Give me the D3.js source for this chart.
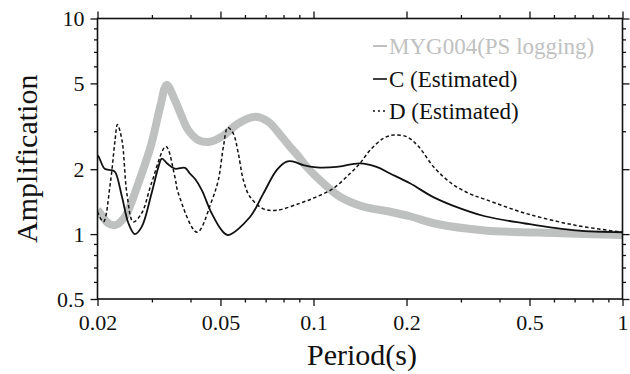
<!DOCTYPE html>
<html>
<head>
<meta charset="utf-8">
<script src="https://cdn.jsdelivr.net/npm/d3@7"></script>
<style>
  body { margin: 0; background: #fff; }
  svg { display: block; }
</style>
</head>
<body>
<svg id="chart" width="630" height="374"></svg>
<script>
// ---- data ----
const xMajorTicks = [0.02, 0.05, 0.1, 0.2, 0.5, 1];
const xMajorLabels = ["0.02", "0.05", "0.1", "0.2", "0.5", "1"];
const xMinorTicks = [0.03, 0.04, 0.06, 0.07, 0.08, 0.09, 0.3, 0.4, 0.6, 0.7, 0.8, 0.9];
const yMajorTicks = [0.5, 1, 2, 5, 10];
const yMajorLabels = ["0.5", "1", "2", "5", "10"];
const yMinorTicks = [0.6, 0.7, 0.8, 0.9, 3, 4, 6, 7, 8, 9];

const seriesNames = ["MYG004(PS logging)", "C (Estimated)", "D (Estimated)"];

const grayPeriod = [0.02, 0.0204, 0.0217, 0.0228, 0.0245, 0.0271, 0.0299, 0.0319, 0.0335, 0.0356, 0.0375, 0.0393, 0.0424, 0.0462, 0.0505, 0.0571, 0.0647, 0.0714, 0.0789, 0.084, 0.0893, 0.0951, 0.1076, 0.1218, 0.145, 0.1769, 0.2052, 0.247, 0.359, 0.628, 1.0];
const grayAmp    = [1.3, 1.25, 1.12, 1.1, 1.2, 1.72, 2.63, 3.89, 4.92, 4.18, 3.5, 3.04, 2.73, 2.68, 2.83, 3.26, 3.5, 3.32, 2.83, 2.54, 2.3, 2.05, 1.72, 1.49, 1.34, 1.27, 1.21, 1.12, 1.04, 1.01, 0.99];

const cPeriod = [0.02, 0.0202, 0.0211, 0.0222, 0.0228, 0.024, 0.0252, 0.0264, 0.0278, 0.0299, 0.0315, 0.0323, 0.0337, 0.0356, 0.0384, 0.0398, 0.0414, 0.0435, 0.0468, 0.0505, 0.0529, 0.0623, 0.0688, 0.076, 0.0819, 0.086, 0.0927, 0.1024, 0.1189, 0.1414, 0.16, 0.1769, 0.2052, 0.245, 0.281, 0.359, 0.484, 0.702, 1.0];
const cAmp    = [2.32, 2.28, 2.01, 1.98, 1.94, 1.49, 1.12, 1.0, 1.08, 1.54, 2.05, 2.24, 2.12, 2.01, 2.03, 1.91, 1.8, 1.6, 1.25, 1.04, 0.99, 1.2, 1.54, 1.98, 2.17, 2.17, 2.09, 2.04, 2.05, 2.13, 2.05, 1.91, 1.72, 1.48, 1.36, 1.21, 1.12, 1.04, 1.02];

const dPeriod = [0.02, 0.0209, 0.022, 0.0228, 0.0232, 0.024, 0.0249, 0.0261, 0.0278, 0.0299, 0.0333, 0.0356, 0.0365, 0.042, 0.0468, 0.0492, 0.0511, 0.0528, 0.055, 0.0571, 0.0593, 0.0623, 0.0688, 0.076, 0.0904, 0.1024, 0.116, 0.1313, 0.1414, 0.1524, 0.1683, 0.1813, 0.2003, 0.218, 0.247, 0.281, 0.32, 0.359, 0.484, 0.702, 1.0];
const dAmp    = [1.27, 1.14, 1.72, 2.73, 3.22, 2.73, 1.54, 1.14, 1.25, 1.72, 2.55, 1.84, 1.55, 1.02, 1.42, 1.78, 2.54, 3.12, 2.93, 2.37, 1.78, 1.49, 1.31, 1.29, 1.39, 1.49, 1.63, 1.91, 2.13, 2.45, 2.78, 2.88, 2.83, 2.56, 2.02, 1.71, 1.54, 1.45, 1.25, 1.1, 1.02];

// ---- layout ----
const FONT = '"Liberation Serif", serif';
const svg = d3.select("#chart");
const L = 97.5, R = 622.5, T = 18.5, B = 299;
const x = d3.scaleLog().domain([0.02, 1]).range([L, R]);
const y = d3.scaleLog().domain([0.5, 10]).range([B, T]);

const grayCol = "#bfc1c1";

svg.append("defs").append("clipPath").attr("id", "clip")
  .append("rect").attr("x", L).attr("y", T).attr("width", R - L).attr("height", B - T);

const line = d3.line().x(d => x(d[0])).y(d => y(d[1])).curve(d3.curveCatmullRom.alpha(0.5));

const plot = svg.append("g").attr("clip-path", "url(#clip)");
plot.append("path").datum(d3.zip(grayPeriod, grayAmp))
  .attr("d", line).attr("fill", "none").attr("stroke", grayCol).attr("stroke-width", 8);
plot.append("path").datum(d3.zip(dPeriod, dAmp))
  .attr("d", line).attr("fill", "none").attr("stroke", "#111").attr("stroke-width", 1.5)
  .attr("stroke-dasharray", "3.5,2.5");
plot.append("path").datum(d3.zip(cPeriod, cAmp))
  .attr("d", line).attr("fill", "none").attr("stroke", "#111").attr("stroke-width", 1.8);

// ---- axes ----
function styleAxis(g) {
  g.select(".domain").remove();
  g.selectAll("line").attr("stroke", "#111").attr("stroke-width", 1.3);
  g.selectAll("text").attr("font-size", 22).attr("fill", "#111").attr("font-family", FONT);
}
const fx = d => xMajorLabels[xMajorTicks.indexOf(d)];
const fy = d => yMajorLabels[yMajorTicks.indexOf(d)];

svg.append("g").attr("transform", `translate(0,${B})`)
  .call(d3.axisBottom(x).tickValues(xMajorTicks).tickFormat(fx).tickSize(7).tickPadding(8)).call(styleAxis);
svg.append("g").attr("transform", `translate(0,${B})`)
  .call(d3.axisBottom(x).tickValues(xMinorTicks).tickFormat("").tickSize(3.5)).call(styleAxis);
svg.append("g").attr("transform", `translate(0,${T})`)
  .call(d3.axisTop(x).tickValues(xMajorTicks).tickFormat("").tickSize(7)).call(styleAxis);
svg.append("g").attr("transform", `translate(0,${T})`)
  .call(d3.axisTop(x).tickValues(xMinorTicks).tickFormat("").tickSize(3.5)).call(styleAxis);

svg.append("g").attr("transform", `translate(${L},0)`)
  .call(d3.axisLeft(y).tickValues(yMajorTicks).tickFormat(fy).tickSize(7).tickPadding(6)).call(styleAxis);
svg.append("g").attr("transform", `translate(${L},0)`)
  .call(d3.axisLeft(y).tickValues(yMinorTicks).tickFormat("").tickSize(3.5)).call(styleAxis);
svg.append("g").attr("transform", `translate(${R},0)`)
  .call(d3.axisRight(y).tickValues(yMajorTicks).tickFormat("").tickSize(7)).call(styleAxis);
svg.append("g").attr("transform", `translate(${R},0)`)
  .call(d3.axisRight(y).tickValues(yMinorTicks).tickFormat("").tickSize(3.5)).call(styleAxis);

svg.append("rect").attr("x", L).attr("y", T).attr("width", R - L).attr("height", B - T)
  .attr("fill", "none").attr("stroke", "#111").attr("stroke-width", 1.6);

// ---- titles ----
svg.append("text").attr("x", (L + R) / 2 + 2).attr("y", 365).attr("text-anchor", "middle")
  .attr("font-family", FONT).attr("font-size", 30).attr("fill", "#111").text("Period(s)");
svg.append("text").attr("transform", `translate(37,${(T + B) / 2}) rotate(-90)`)
  .attr("text-anchor", "middle").attr("font-family", FONT).attr("font-size", 30).attr("fill", "#111")
  .text("Amplification");

// ---- legend ----
const legY = [46, 79, 111];
const legStyles = [
  { col: grayCol, w: 2, dash: null, tcol: grayCol },
  { col: "#111", w: 1.6, dash: null, tcol: "#111" },
  { col: "#111", w: 1.6, dash: "2,3", tcol: "#111" }
];
seriesNames.forEach((name, i) => {
  const s = legStyles[i];
  svg.append("line").attr("x1", 373).attr("x2", 387).attr("y1", legY[i]).attr("y2", legY[i])
    .attr("stroke", s.col).attr("stroke-width", s.w).attr("stroke-dasharray", s.dash);
  svg.append("text").attr("x", 389).attr("y", legY[i] + 7.5).attr("font-family", FONT)
    .attr("font-size", 23).attr("fill", s.tcol).text(name);
});
</script>
</body>
</html>
